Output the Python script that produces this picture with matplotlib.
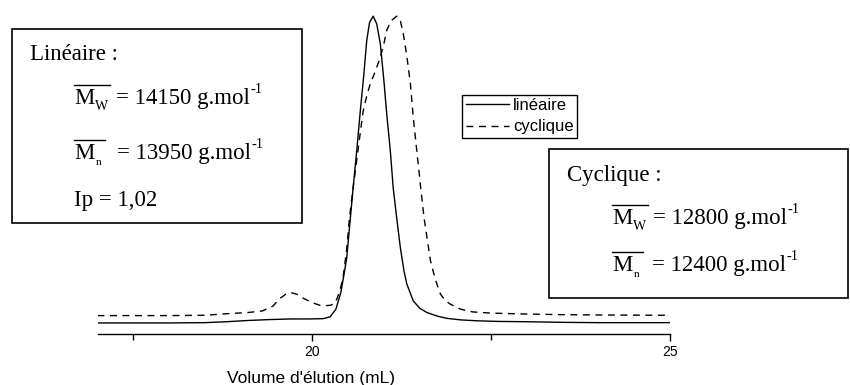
import matplotlib
matplotlib.use("Agg")
import matplotlib.pyplot as plt
from matplotlib.patches import Rectangle
from matplotlib.lines import Line2D

# SEC traces (elution volume in mL, normalised detector response)
vol_lin = [17.0, 17.5, 18.0, 18.5, 18.8, 19.1, 19.4, 19.7, 19.95, 20.15, 20.25,
           20.33, 20.40, 20.48, 20.57, 20.62, 20.67, 20.72, 20.76, 20.80, 20.85,
           20.90, 20.95, 21.00, 21.04, 21.09, 21.13, 21.18, 21.23, 21.28, 21.32,
           21.41, 21.50, 21.60, 21.75, 21.88, 22.07, 22.3, 22.6, 23.0, 23.5, 24.0, 25.0]
sig_lin = [0.0, 0.0, 0.0, 0.001, 0.004, 0.008, 0.011, 0.013, 0.013, 0.014, 0.02,
           0.045, 0.10, 0.21, 0.44, 0.56, 0.69, 0.81, 0.92, 0.98, 1.0,
           0.975, 0.91, 0.79, 0.68, 0.56, 0.44, 0.34, 0.245, 0.17, 0.127,
           0.072, 0.048, 0.034, 0.022, 0.015, 0.01, 0.007, 0.005, 0.004, 0.002, 0.001, 0.001]

vol_cyc = [17.0, 18.0, 18.5, 18.8, 19.1, 19.3, 19.45, 19.55, 19.63, 19.70, 19.78,
           19.88, 20.0, 20.1, 20.18, 20.26, 20.32, 20.38, 20.43, 20.48, 20.52,
           20.57, 20.62, 20.67, 20.71, 20.76, 20.81, 20.88, 20.95, 21.00, 21.04,
           21.10, 21.18, 21.23, 21.27, 21.32, 21.37, 21.41, 21.46, 21.51, 21.56,
           21.61, 21.65, 21.72, 21.79, 21.86, 21.93, 22.07, 22.24, 22.5, 23.0,
           23.5, 24.0, 25.0]
sig_cyc = [0.024, 0.024, 0.025, 0.03, 0.034, 0.039, 0.055, 0.08, 0.094, 0.099, 0.094,
           0.08, 0.066, 0.058, 0.056, 0.058, 0.065, 0.10, 0.148, 0.24, 0.344,
           0.44, 0.53, 0.62, 0.69, 0.74, 0.78, 0.82, 0.867, 0.91, 0.954,
           0.985, 1.0, 0.985, 0.944, 0.87, 0.78, 0.67, 0.56, 0.45, 0.344,
           0.265, 0.203, 0.14, 0.094, 0.072, 0.061, 0.045, 0.036, 0.032, 0.029,
           0.027, 0.026, 0.025]

series_labels = ["linéaire", "cyclique"]
major_ticks = [20, 25]
minor_ticks = [17.5, 22.5]

lin_title = "Linéaire :"
lin_mw, lin_mn, lin_ip = "14150", "13950", "1,02"
cyc_title = "Cyclique :"
cyc_mw, cyc_mn = "12800", "12400"

W, H = 850, 385
fig = plt.figure(figsize=(W / 100, H / 100), dpi=100)
ax = fig.add_axes([97.5 / W, 1 - 334 / H, (670.3 - 97.5) / W, (334 - 10) / H])

ax.plot(vol_lin, sig_lin, color='black', lw=1.0, label=series_labels[0])
ax.plot(vol_cyc, sig_cyc, color='black', lw=1.0, dashes=(5, 4), label=series_labels[1])

ax.set_xlim(17, 25)
ax.set_ylim(-0.036, 1.02)
for s in ('left', 'right', 'top'):
    ax.spines[s].set_visible(False)
ax.spines['bottom'].set_linewidth(1.0)
ax.set_yticks([])
ax.set_xticks(major_ticks)
ax.set_xticks(minor_ticks, minor=True)
ax.tick_params(axis='x', which='major', direction='out', length=5, width=1.0,
               labelsize=10, labelfontfamily='Liberation Sans', pad=3)
ax.tick_params(axis='x', which='minor', direction='out', length=4.5, width=1.0)
ax.set_xlabel("Volume d'élution (mL)", family='Liberation Sans', fontsize=12.5)
ax.xaxis.set_label_coords((311 - 97.5) / (670.3 - 97.5), -(378 - 334) / (334 - 10),
                          transform=ax.transAxes)
ax.xaxis.label.set_va('center')

leg = fig.legend(loc='upper left', bbox_to_anchor=(462.5 / W, 1 - 94.5 / H),
                 borderaxespad=0, fancybox=False, edgecolor='black', framealpha=1,
                 prop={'family': 'Liberation Sans', 'size': 12},
                 handlelength=2.6, handletextpad=0.25, labelspacing=0.4,
                 borderpad=0.2)
leg.get_frame().set_linewidth(1.0)

renderer = fig.canvas.get_renderer()
SERIF = 'Liberation Serif'
BIG = 16.5


def px(x, y):
    return x / W, 1 - y / H


def box(x0, y0, x1, y1):
    fig.patches.append(Rectangle(px(x0, y1), (x1 - x0) / W, (y1 - y0) / H,
                                 transform=fig.transFigure, fill=False,
                                 edgecolor='black', lw=1.2))


def put(x, y, s, size=BIG):
    t = fig.text(*px(x, y), s, family=SERIF, fontsize=size,
                 ha='left', va='baseline')
    return t, t.get_window_extent(renderer)


def mass_line(x, base, sub, sub_size, value, eq_x):
    # averaged molar mass: overlined M with subscript, then value and unit
    _, bb_m = put(x, base, 'M')
    _, bb_s = put(bb_m.x1 + 1, base + 6, sub, size=sub_size)
    bar_end = max(bb_s.x1, bb_m.x1 + 10) + 1
    fig.lines.append(Line2D([x / W, bar_end / W], [1 - (base - 19) / H] * 2,
                            transform=fig.transFigure, color='black', lw=1.0))
    _, bb_v = put(eq_x, base, '= ' + value + ' g.mol')
    put(bb_v.x1 + 0.5, base - 11, '-1', size=10.5)


# Linear polymer summary
box(12, 29, 302, 223)
put(30, 60, lin_title)
mass_line(74, 104, 'W', 10, lin_mw, 116)
mass_line(74, 159, 'n', 8, lin_mn, 117)
put(74, 206, 'Ip = ' + lin_ip)

# Cyclic polymer summary
box(549, 149, 848, 298)
put(567, 181.5, cyc_title)
mass_line(612, 224, 'W', 10, cyc_mw, 653)
mass_line(612, 271, 'n', 8, cyc_mn, 652)

fig.savefig('out.png', dpi=100)
